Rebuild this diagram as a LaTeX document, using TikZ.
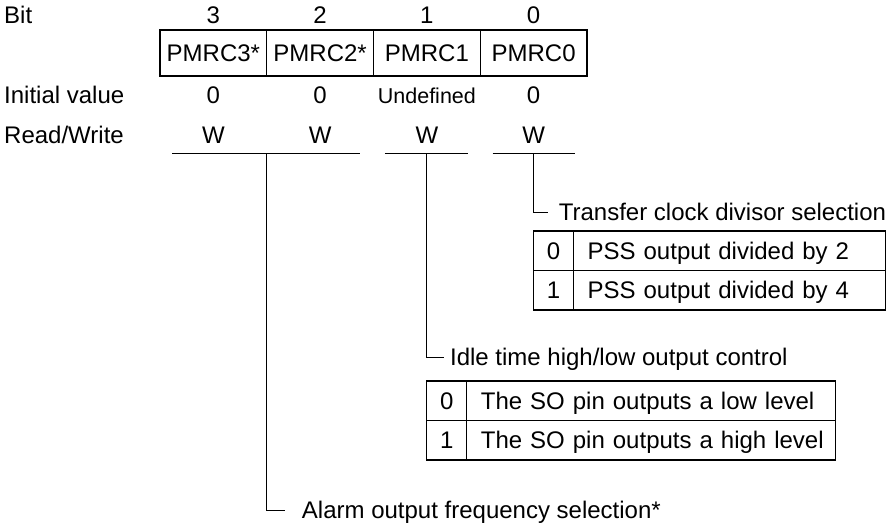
\documentclass[tikz,border=0pt]{standalone}
\usepackage{fontspec}
\setmainfont{Liberation Sans}
\usetikzlibrary{positioning, calc}

\begin{document}
\begin{tikzpicture}[
  x=1pt, y=-1pt,
  font=\fontsize{24}{28}\selectfont,
  txt/.style={inner sep=0pt, text height=17.2pt, text depth=0pt},
  regbit/.style={
    draw,
    line width=1.2pt,
    minimum width=106.75pt,
    minimum height=46pt,
    inner sep=0pt,
    outer sep=0pt,
    text height=17.2pt,
    text depth=0pt,
  },
  numcell/.style={
    draw,
    line width=1.2pt,
    minimum width=40pt,
    minimum height=39.5pt,
    inner sep=0pt,
    outer sep=0pt,
    text height=17.2pt,
    text depth=0pt,
  },
  desccell/.style={
    draw,
    line width=1.2pt,
    minimum height=39.5pt,
    inner xsep=14pt,
    inner ysep=0pt,
    outer sep=0pt,
    align=left,
    text height=17.2pt,
    text depth=0pt,
  },
  lead/.style={line width=1pt},
]
\useasboundingbox (0,0) rectangle (887,525);

% --- Register ---
\node[regbit, anchor=north west] (PMRC3) at (160,30) {PMRC3*};
\node[regbit, right=0pt of PMRC3] (PMRC2) {PMRC2*};
\node[regbit, right=0pt of PMRC2] (PMRC1) {PMRC1};
\node[regbit, right=0pt of PMRC1] (PMRC0) {PMRC0};

% --- Row labels ---
\node[txt, anchor=west] (BitLbl) at (4,15) {Bit};
\node[txt, anchor=west] (InitLbl) at (4,95) {Initial value};
\node[txt, anchor=west] (RWLbl) at (4,135) {Read/Write};

\node[txt] (Bit3) at (PMRC3.center |- BitLbl) {3};
\node[txt] (Bit2) at (PMRC2.center |- BitLbl) {2};
\node[txt] (Bit1) at (PMRC1.center |- BitLbl) {1};
\node[txt] (Bit0) at (PMRC0.center |- BitLbl) {0};

\node[txt] (Init3) at (PMRC3.center |- InitLbl) {0};
\node[txt] (Init2) at (PMRC2.center |- InitLbl) {0};
\node[txt, font=\fontsize{21.5}{24}\selectfont] (Init1) at (PMRC1.center |- InitLbl) {Undefined};
\node[txt] (Init0) at (PMRC0.center |- InitLbl) {0};

\node[txt] (RW3) at (PMRC3.center |- RWLbl) {W};
\node[txt] (RW2) at (PMRC2.center |- RWLbl) {W};
\node[txt] (RW1) at (PMRC1.center |- RWLbl) {W};
\node[txt] (RW0) at (PMRC0.center |- RWLbl) {W};

% Underlines below the W row
\coordinate (Bar3) at ($(PMRC3.center |- 0,153)+(-41,0)$);
\coordinate (Bar2) at ($(PMRC2.center |- 0,153)+(40,0)$);
\coordinate (Bar1L) at ($(PMRC1.center |- 0,153)+(-42,0)$);
\coordinate (Bar1R) at ($(PMRC1.center |- 0,153)+(41,0)$);
\coordinate (Bar0L) at ($(PMRC0.center |- 0,153)+(-41,0)$);
\coordinate (Bar0R) at ($(PMRC0.center |- 0,153)+(41,0)$);

\draw[lead] (Bar3) -- (Bar2);
\draw[lead] (Bar1L) -- (Bar1R);
\draw[lead] (Bar0L) -- (Bar0R);

% --- Bit 0: transfer clock ---
\coordinate (Tee0) at (PMRC0.center |- 0,153);
\coordinate (Bend0) at (PMRC0.center |- 0,212);
\node[txt, anchor=west] (Transfer) at ($(Bend0)+(25,0)$) {Transfer clock divisor selection};
\draw[lead] (Tee0) -- (Bend0) -- ($(Bend0)+(14,0)$);

\node[numcell, anchor=north west] (T0n0) at (PMRC0.center |- 0,231) {0};
\node[desccell, text width=284pt, right=0pt of T0n0] (T0d0) {\mbox{PSS output divided by 2}};
\node[numcell, below=0pt of T0n0] (T0n1) {1};
\node[desccell, text width=284pt, right=0pt of T0n1] (T0d1) {\mbox{PSS output divided by 4}};

% --- Bit 1: idle output ---
\coordinate (Tee1) at (PMRC1.center |- 0,153);
\coordinate (Bend1) at (PMRC1.center |- 0,357);
\node[txt, anchor=west] (Idle) at ($(Bend1)+(23,0)$) {Idle time high/low output control};
\draw[lead] (Tee1) -- (Bend1) -- ($(Bend1)+(17,0)$);

\node[numcell, anchor=north west] (T1n0) at (PMRC1.center |- 0,381) {0};
\node[desccell, text width=341pt, right=0pt of T1n0] (T1d0) {\mbox{The SO pin outputs a low level}};
\node[numcell, below=0pt of T1n0] (T1n1) {1};
\node[desccell, text width=341pt, right=0pt of T1n1] (T1d1) {\mbox{The SO pin outputs a high level}};

% --- Bits 3/2: alarm ---
\coordinate (Tee32) at (PMRC3.south east |- 0,153);
\coordinate (Bend32) at (PMRC3.south east |- 0,510);
\node[txt, anchor=west] (Alarm) at ($(Bend32)+(35,0)$) {Alarm output frequency selection*};
\draw[lead] (Tee32) -- (Bend32) -- ($(Bend32)+(18,0)$);

\end{tikzpicture}
\end{document}
